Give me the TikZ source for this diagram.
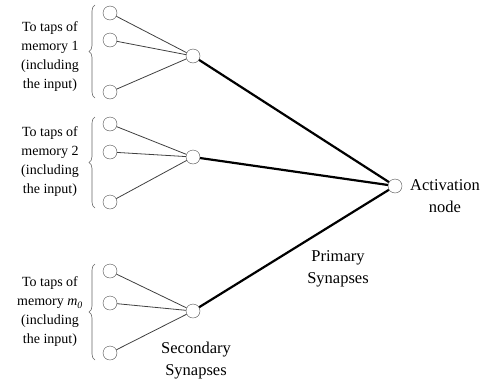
\documentclass[tikz,border=0pt]{standalone}
\usepackage{fontspec}
\setmainfont{Liberation Serif}
\usetikzlibrary{decorations.pathreplacing}

\begin{document}
\begin{tikzpicture}[x=1pt, y=-1pt,
	tap/.style={circle, draw=black!70, fill=white, minimum size=14pt, inner sep=0pt},
	hub/.style={circle, draw=black!70, fill=white, minimum size=14pt, inner sep=0pt},
	secondary/.style={draw=black!75, line width=0.8pt},
	primary/.style={draw=black, line width=2.2pt},
	curly/.style={draw=black!60, line width=0.6pt, decorate, decoration={brace, amplitude=6pt}},
	memtext/.style={align=center, font=\fontsize{14}{19}\selectfont},
	bigtext/.style={align=center, font=\fontsize{16.5}{22}\selectfont}]
\useasboundingbox (0,0) rectangle (494,383);

% memory 1
\node[tap] (a1) at (110,13) {};
\node[tap] (a2) at (110,40) {};
\node[tap] (a3) at (110,92) {};
\node[hub] (h1) at (193,56) {};
% memory 2
\node[tap] (b1) at (110,124) {};
\node[tap] (b2) at (110,152) {};
\node[tap] (b3) at (110,202) {};
\node[hub] (h2) at (193,157) {};
% memory m0
\node[tap] (c1) at (110,271) {};
\node[tap] (c2) at (110,303) {};
\node[tap] (c3) at (110,353) {};
\node[hub] (h3) at (193,311) {};

\node[hub] (act) at (395,186) {};

\foreach \g/\h in {a/h1, b/h2, c/h3}
	\foreach \i in {1,2,3}
		\draw[secondary] (\g\i) -- (\h);
\foreach \h in {h1,h2,h3}
	\draw[primary] (\h) -- (act);

% braces
\draw[curly] (95,98) -- (95,5);
\draw[curly] (95,208) -- (95,117);
\draw[curly] (95,360) -- (95,264);

\node[memtext] (m1) at (50,57) {To taps of\\memory 1\\(including\\the input)};
\node[memtext] (m2) at (50,162) {To taps of\\memory 2\\(including\\the input)};
\node[memtext] (m3) at (50,312) {To taps of\\memory \textit{m}\textsubscript{\textit{0}}\\(including\\the input)};

\node[bigtext] (actlab) at (445,196) {Activation\\node};
\node[bigtext] (prim) at (338,269) {Primary\\Synapses};
\node[bigtext] (sec) at (196,361) {Secondary\\Synapses};
\end{tikzpicture}
\end{document}
